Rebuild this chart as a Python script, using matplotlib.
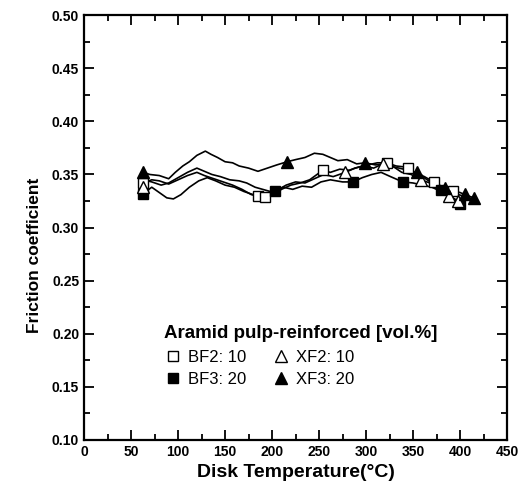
import matplotlib.pyplot as plt
from matplotlib.ticker import MultipleLocator

plt.rcParams['font.family'] = ['Liberation Sans', 'DejaVu Sans']

# BF2: 10 (open squares)
bf2_t = [63, 72, 80, 90, 100, 110, 120, 128, 138, 148, 158, 168, 178, 190, 200, 210, 220, 230,
         240, 254, 262, 272, 282, 292, 302, 312, 322, 332, 342, 352, 362, 372, 382, 392, 402]
bf2_f = [0.342, 0.345, 0.344, 0.341, 0.345, 0.349, 0.352, 0.349, 0.346, 0.343, 0.340, 0.336, 0.331,
         0.329, 0.330, 0.336, 0.340, 0.342, 0.345, 0.354, 0.352, 0.355, 0.354, 0.357, 0.359, 0.361,
         0.361, 0.358, 0.357, 0.352, 0.348, 0.343, 0.338, 0.333, 0.330]
bf2_mt = [63, 185, 193, 254, 322, 345, 372, 392]
bf2_mf = [0.342, 0.330, 0.329, 0.354, 0.361, 0.356, 0.343, 0.334]

# BF3: 20 (filled squares)
bf3_t = [63, 72, 80, 88, 95, 103, 112, 122, 131, 140, 150, 160, 170, 180, 190, 203, 212, 222, 232,
         242, 252, 262, 275, 286, 296, 306, 316, 326, 339, 350, 360, 370, 380, 390, 400]
bf3_f = [0.332, 0.338, 0.333, 0.328, 0.327, 0.331, 0.338, 0.344, 0.347, 0.344, 0.340, 0.338, 0.334,
         0.331, 0.330, 0.334, 0.338, 0.336, 0.339, 0.338, 0.343, 0.345, 0.343, 0.343, 0.347, 0.350,
         0.352, 0.348, 0.343, 0.342, 0.340, 0.338, 0.334, 0.330, 0.322]
bf3_mt = [63, 203, 286, 339, 380, 400]
bf3_mf = [0.332, 0.334, 0.343, 0.343, 0.335, 0.322]

# XF2: 10 (open triangles)
xf2_t = [63, 72, 82, 90, 100, 110, 120, 128, 136, 145, 155, 165, 173, 182, 190, 198, 207, 215, 225,
         235, 245, 255, 265, 278, 288, 298, 308, 318, 328, 338, 348, 358, 368, 378, 388, 398]
xf2_f = [0.345, 0.343, 0.340, 0.342, 0.347, 0.352, 0.356, 0.353, 0.350, 0.348, 0.345, 0.344, 0.342,
         0.338, 0.336, 0.334, 0.336, 0.340, 0.343, 0.342, 0.346, 0.350, 0.348, 0.352, 0.356, 0.358,
         0.356, 0.360, 0.358, 0.352, 0.350, 0.345, 0.342, 0.336, 0.330, 0.325]
xf2_mt = [63, 278, 318, 358, 388, 398]
xf2_mf = [0.338, 0.352, 0.360, 0.345, 0.330, 0.325]

# XF3: 20 (filled triangles)
xf3_t = [63, 70, 80, 90, 97, 105, 112, 120, 129, 135, 142, 150, 158, 165, 175, 185, 195, 205, 216,
         225, 235, 245, 254, 262, 270, 280, 290, 299, 310, 320, 330, 340, 350, 360, 370, 380, 390,
         400, 408, 415]
xf3_f = [0.352, 0.350, 0.349, 0.346, 0.352, 0.358, 0.362, 0.368, 0.372, 0.369, 0.366, 0.362, 0.361,
         0.358, 0.356, 0.353, 0.356, 0.359, 0.362, 0.364, 0.366, 0.370, 0.369, 0.366, 0.363, 0.364,
         0.360, 0.361, 0.359, 0.360, 0.357, 0.355, 0.352, 0.348, 0.342, 0.338, 0.335, 0.333, 0.330,
         0.328]
xf3_mt = [63, 216, 299, 354, 384, 405, 415]
xf3_mf = [0.352, 0.362, 0.361, 0.352, 0.337, 0.332, 0.328]

fig = plt.figure(figsize=(5.19, 4.98), dpi=100)
ax = fig.add_axes([0.162, 0.1165, 0.815, 0.853])

for t, f in [(bf2_t, bf2_f), (bf3_t, bf3_f), (xf2_t, xf2_f), (xf3_t, xf3_f)]:
    ax.plot(t, f, color='black', lw=1.2)

# order: column-major fill so rows read BF2/XF2, BF3/XF3
ax.plot(bf2_mt, bf2_mf, 's', ms=7, mfc='white', mec='black', mew=1.0, ls='none', label='BF2: 10')
ax.plot(bf3_mt, bf3_mf, 's', ms=7, mfc='black', mec='black', ls='none', label='BF3: 20')
ax.plot(xf2_mt, xf2_mf, '^', ms=8, mfc='white', mec='black', mew=1.0, ls='none', label='XF2: 10')
ax.plot(xf3_mt, xf3_mf, '^', ms=8, mfc='black', mec='black', ls='none', label='XF3: 20')

ax.set_xlim(0, 450)
ax.set_ylim(0.10, 0.50)
ax.xaxis.set_major_locator(MultipleLocator(50))
ax.xaxis.set_minor_locator(MultipleLocator(25))
ax.yaxis.set_minor_locator(MultipleLocator(0.025))
ax.set_yticks([0.10, 0.15, 0.20, 0.25, 0.30, 0.35, 0.40, 0.45, 0.50])
ax.set_yticklabels(['0.10', '0.15', '0.20', '0.25', '0.30', '0.35', '0.40', '0.45', '0.50'])
ax.tick_params(which='both', direction='in', top=True, right=True, width=1.3)
ax.tick_params(which='major', length=7, labelsize=10)
ax.tick_params(which='minor', length=4)
for lab in ax.get_xticklabels() + ax.get_yticklabels():
    lab.set_fontweight('bold')
for s in ax.spines.values():
    s.set_linewidth(1.6)

ax.set_xlabel('Disk Temperature(\u00b0C)', fontsize=14, fontweight='bold')
ax.set_ylabel('Friction coefficient', fontsize=12.5, fontweight='bold')
ax.yaxis.set_label_coords(-0.10, 0.435)

leg = ax.legend(loc='upper left', bbox_to_anchor=(0.17, 0.29), ncol=2, frameon=False,
                title='Aramid pulp-reinforced [vol.%]', alignment='left',
                title_fontproperties={'weight': 'bold', 'size': 13.5},
                fontsize=12, handletextpad=0.4, columnspacing=1.6, borderpad=0,
                labelspacing=0.45, handlelength=1.0)

plt.savefig('out.png', dpi=100)
plt.close()
